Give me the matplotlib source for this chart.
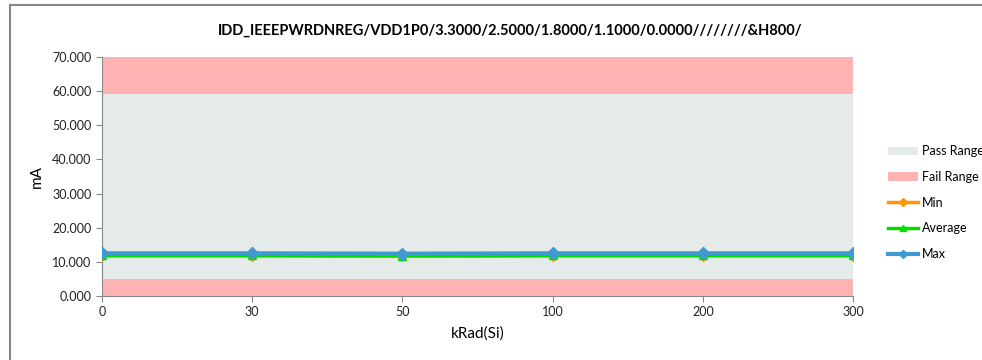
import matplotlib
matplotlib.use('Agg')

import numpy as np
import matplotlib.pyplot as plt
from matplotlib.patches import Patch
from matplotlib.lines import Line2D

plt.rcParams['font.family'] = ['Lato', 'DejaVu Sans']

title = 'IDD_IEEEPWRDNREG/VDD1P0/3.3000/2.5000/1.8000/1.1000/0.0000////////&H800/'
categories = ['0', '30', '50', '100', '200', '300']
min_vals = [11.7, 11.7, 11.6, 11.7, 11.7, 11.7]
avg_vals = [11.9, 11.9, 11.8, 11.9, 11.9, 11.9]
max_vals = [12.5, 12.5, 12.4, 12.5, 12.5, 12.5]
pass_lo, pass_hi = 5.0, 59.2
y_top = 70.0

pass_col = '#E5EBEB'
fail_col = '#FFB3B3'
min_col = '#FF9900'
avg_col = '#00DD00'
max_col = '#3E9AD0'

fig = plt.figure(figsize=(9.82, 3.6), dpi=100)
ax = fig.add_axes([102/982, 64/360, 751/982, 239/360])

x = np.arange(len(categories))
ax.fill_between(x, pass_lo, pass_hi, facecolor=pass_col, lw=0)
ax.fill_between(x, 0, pass_lo, facecolor=fail_col, lw=0)
ax.fill_between(x, pass_hi, y_top, facecolor=fail_col, lw=0)

ax.plot(x, min_vals, color=min_col, lw=2.5, marker='D', ms=5, zorder=3)
ax.plot(x, avg_vals, color=avg_col, lw=2.5, marker='^', ms=6, zorder=4)
ax.plot(x, max_vals, color=max_col, lw=3, marker='D', ms=6, zorder=5)

ax.set_xlim(0, len(categories) - 1)
ax.set_ylim(0, y_top)
ax.set_yticks(np.arange(0, 71, 10))
ax.set_yticklabels(['%.3f' % v for v in np.arange(0, 71, 10)])
ax.set_xticks(x)
ax.set_xticklabels(categories)
ax.tick_params(labelsize=9, colors='#222222', length=4, color='#888888')
for s in ['top', 'right']:
    ax.spines[s].set_visible(False)
for s in ['left', 'bottom']:
    ax.spines[s].set_color('#888888')
ax.set_xlabel('kRad(Si)', fontsize=11, labelpad=6)
ax.set_ylabel('mA', fontsize=11, labelpad=6)
fig.text(510/982, 0.915, title, ha='center', va='center', fontsize=10.5, fontweight='bold')

handles = [
    Patch(facecolor=pass_col, label='Pass Range'),
    Patch(facecolor=fail_col, label='Fail Range'),
    Line2D([], [], color=min_col, lw=2.5, marker='D', ms=4, label='Min'),
    Line2D([], [], color=avg_col, lw=2.5, marker='^', ms=5, label='Average'),
    Line2D([], [], color=max_col, lw=3, marker='D', ms=4, label='Max'),
]
fig.legend(handles=handles, loc='upper left', bbox_to_anchor=(877/982, 226/360),
           frameon=False, fontsize=9, handlelength=2.4, handletextpad=0.3,
           labelspacing=1.1)

# chart border
fig.add_artist(Line2D([10/982, 1], [355/360, 355/360], color='#888888', lw=1.5))
fig.add_artist(Line2D([10/982, 10/982], [0, 355/360], color='#888888', lw=1.5))

fig.savefig('out.png', dpi=100)
